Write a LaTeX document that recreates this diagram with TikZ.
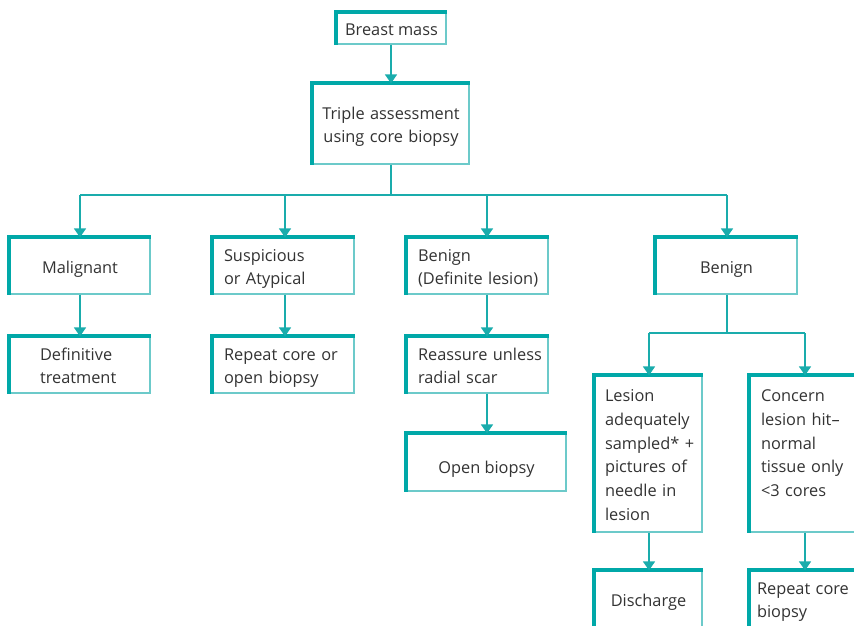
\documentclass[tikz,border=0pt]{standalone}
\usepackage{fontspec}
\setmainfont{Open Sans}
\usetikzlibrary{arrows.meta,calc}
\definecolor{tealdark}{HTML}{00A8A8}
\definecolor{teallight}{HTML}{6CCACA}
\definecolor{tealline}{HTML}{1AACAC}
\definecolor{txt}{HTML}{333333}
\newcommand\tstr{\rule{0pt}{20bp}}
\newcommand\bstr{\rule[-6bp]{0pt}{0pt}}
\tikzset{
  box/.style={draw=teallight, line width=1.2bp, fill=white, text=txt, inner sep=0pt,
    font=\fontsize{16.4}{24}\selectfont, execute at begin node=\tstr, execute at end node=\bstr},
  boxc/.style={box, align=center},
  boxl/.style={box, align=left},
  conn/.style={draw=tealline, line width=1.5bp},
  arr/.style={conn, -{Triangle[width=12bp,length=9bp]}},
  thickedge/.style={draw=tealdark, line width=4bp, line cap=butt, line join=miter}
}
\begin{document}
\begin{tikzpicture}[x=1bp,y=-1bp]
\useasboundingbox (0,0) rectangle (854,626);
\clip (0,0) rectangle (854,626);
% boxes (centre, width, height)
\node[boxc, minimum width=109bp, minimum height=31bp] (bm) at (391.5,28.5) {Breast mass};
\node[boxc, minimum width=156bp, minimum height=80bp, text width=146bp] (ta) at (391,124) {\mbox{Triple assessment}\\\mbox{using core biopsy}};
\node[boxc, minimum width=140bp, minimum height=56bp] (mal) at (80,266) {Malignant};
\node[boxl, minimum width=141bp, minimum height=56bp, text width=119bp] (sus) at (283.5,266) {\mbox{Suspicious}\\\mbox{or Atypical}};
\node[boxl, minimum width=141bp, minimum height=56bp, text width=119bp] (bdl) at (477.5,266) {\mbox{Benign}\\\mbox{(Definite lesion)}};
\node[boxc, minimum width=141bp, minimum height=56bp] (ben) at (726.5,266) {Benign};
\node[boxl, minimum width=140bp, minimum height=56bp, text width=80bp] (def) at (80,365) {\mbox{Definitive}\\\mbox{treatment}};
\node[boxl, minimum width=141bp, minimum height=56bp, text width=119bp] (rep) at (283.5,365) {\mbox{Repeat core or}\\\mbox{open biopsy}};
\node[boxl, minimum width=141bp, minimum height=56bp, text width=119bp] (rea) at (477.5,365) {\mbox{Reassure unless}\\\mbox{radial scar}};
\node[boxc, minimum width=159bp, minimum height=57bp, execute at begin node=\rule{0pt}{27bp}] (opb) at (486.5,462.5) {Open biopsy};
\node[boxl, minimum width=107bp, minimum height=156bp, text width=87bp] (les) at (648.5,454) {\mbox{Lesion}\\\mbox{adequately}\\\mbox{sampled* +}\\\mbox{pictures of}\\\mbox{needle in}\\\mbox{lesion}};
\node[boxl, minimum width=107bp, minimum height=156bp, text width=85bp] (con) at (803.5,454) {\mbox{Concern}\\\mbox{lesion hit--}\\\mbox{normal}\\\mbox{tissue only}\\\mbox{<3 cores}\\\mbox{}};
\node[boxc, minimum width=107bp, minimum height=56bp] (dis) at (648.5,599) {Discharge};
\node[boxl, minimum width=107bp, minimum height=56bp, text width=93bp] (rcb) at (803.5,599) {\mbox{Repeat core}\\\mbox{biopsy}};
% thick top and left edges
\foreach \n in {bm,ta,mal,sus,bdl,ben,def,rep,rea,opb,les,con,dis,rcb}
  \draw[thickedge] (\n.south west) -- (\n.north west) -- (\n.north east);
% connectors
\coordinate (split) at (391,195);
\draw[arr] (bm.south -| ta.north) -- (ta.north);
\draw[conn] (ta.south) -- (split);
\draw[conn] (80,195) -- (727,195);
\draw[arr] (80,195) -- (80,0 |- mal.north);
\draw[arr] (285,195) -- (285,0 |- sus.north);
\draw[arr] (487,195) -- (487,0 |- bdl.north);
\draw[arr] (727,195) -- (727,0 |- ben.north);
\draw[arr] (mal) -- (def);
\draw[arr] (285,0 |- sus.south) -- (285,0 |- rep.north);
\draw[arr] (487,0 |- bdl.south) -- (487,0 |- rea.north);
\draw[arr] (487,0 |- rea.south) -- (487,0 |- opb.north);
\coordinate (split2) at (727,333);
\draw[conn] (727,0 |- ben.south) -- (split2);
\draw[conn] (649,333) -- (805,333);
\draw[arr] (649,333) -- (649,0 |- les.north);
\draw[arr] (805,333) -- (805,0 |- con.north);
\draw[arr] (649,0 |- les.south) -- (649,0 |- dis.north);
\draw[arr] (805,0 |- con.south) -- (805,0 |- rcb.north);
\end{tikzpicture}
\end{document}
